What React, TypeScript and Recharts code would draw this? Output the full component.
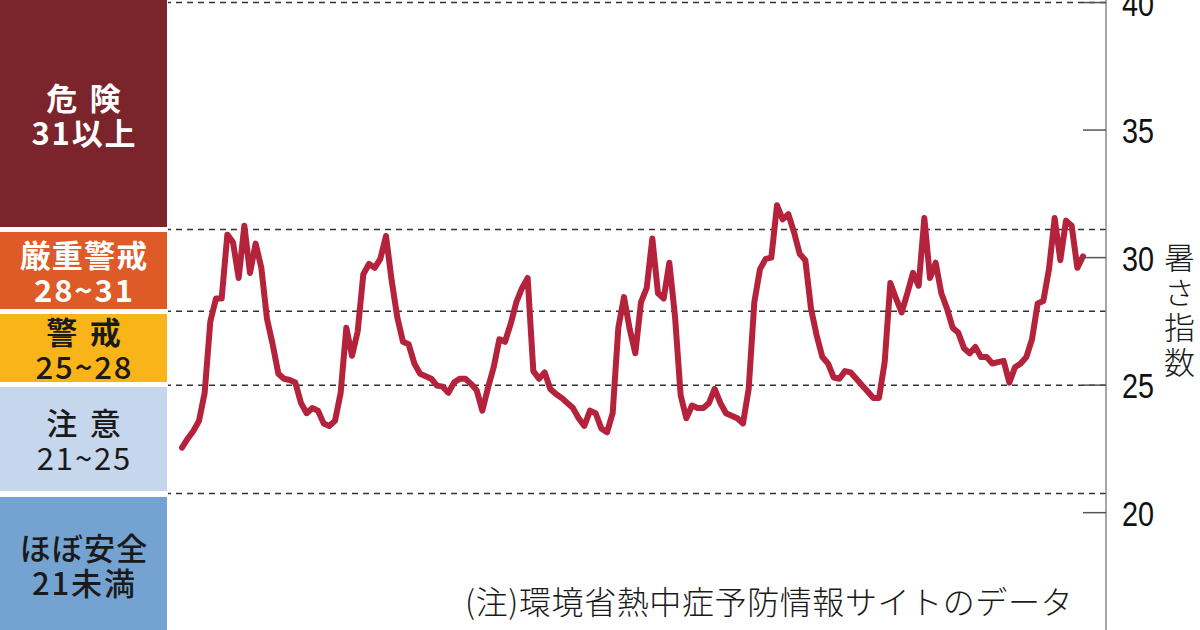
import { LineChart, Line, XAxis, YAxis, ReferenceLine } from "recharts";

const wave1 = [
  22.55, 22.9, 23.2, 23.6, 24.7, 27.5, 28.4, 28.4, 30.9, 30.6, 29.2, 31.25, 29.4,
  30.55, 29.6, 27.6, 26.6, 25.45, 25.25, 25.2, 25.1, 24.3, 23.9, 24.1, 24.0,
];
const wave2 = [
  23.5, 23.4, 23.6, 24.7, 27.25, 26.15, 27.1, 29.35, 29.75, 29.6, 29.95, 30.85,
  29.1, 27.65, 26.7, 26.6, 25.85, 25.45, 25.35, 25.25, 24.98, 24.94, 24.7, 25.1,
  25.25, 25.25, 25.05,
];
const wave3 = [
  24.8, 24.0, 24.9, 25.7, 26.8, 26.7, 27.4, 28.25, 28.8, 29.2, 25.55, 25.25, 25.5,
  24.85, 24.65, 24.5, 24.3, 24.1, 23.7, 23.4, 24.0, 23.9, 23.3, 23.15, 23.9,
  27.25, 28.45,
];
const wave4 = [
  27.2, 26.25, 28.25, 28.8, 30.75, 28.6, 28.4, 29.8, 27.7, 24.6, 23.7, 24.2, 24.1,
  24.1, 24.3, 24.85, 24.3, 23.9, 23.8, 23.7, 23.5, 24.85, 28.25, 29.55, 29.95, 30.0,
];
const wave5 = [
  32.05, 31.5, 31.7, 31.0, 30.15, 29.9, 28.0, 26.95, 26.1, 25.85, 25.3, 25.25,
  25.55, 25.5, 25.25, 25.0, 24.75, 24.5, 24.5, 25.9, 29.0, 28.4, 27.85, 28.6, 29.4,
  28.9,
];
const wave6 = [
  31.55, 29.2, 29.8, 28.6, 28.0, 27.25, 27.05, 26.45, 26.25, 26.5, 26.1, 26.1,
  25.85, 25.9, 25.95, 25.1, 25.7, 25.85, 26.1, 26.8, 28.2, 28.3, 29.55, 31.55, 29.9,
  31.45, 31.25, 29.6, 30.05,
];

const yTicks = [20, 25, 30, 35, 40];
const thresholds = [40, 31.1, 27.9, 25, 20.75];

const bandNames = ["危険", "厳重警戒", "警戒", "注意", "ほぼ安全"];
const bandRanges = ["31以上", "28~31", "25~28", "21~25", "21未満"];

const axisLabel = "暑さ指数";
const sourceNote = "(注)環境省熱中症予防情報サイトのデータ";

const heatIndex = [...wave1, ...wave2, ...wave3, ...wave4, ...wave5, ...wave6];

// layout of the coloured legend boxes on the left
const boxTops = [0, 232, 314, 387, 497];
const boxBottoms = [227, 309, 382, 491, 630];
const boxColors = ["#7b242b", "#de5a26", "#f8b418", "#c6d6ec", "#74a3d1"];
const boxText = ["#fff", "#fff", "#1a1a1a", "#1a1a1a", "#1a1a1a"];
const nameWeight = [700, 700, 700, 500, 500];
const rangeWeight = [700, 700, 500, 400, 500];

const cjk = "'Noto Sans CJK JP', 'Noto Sans', sans-serif";

const AxisTick = (props: any) => {
  const { x, y, payload } = props;
  return (
    <g>
      <line x1={x - 23} x2={x} y1={y} y2={y} stroke="#555" strokeWidth={1.5} />
      {/* squeezed Liberation Sans, to look like the condensed face of the original */}
      <text
        transform={`translate(${x + 16},${y}) scale(0.8,1)`}
        dy="0.36em"
        textAnchor="start"
        fontSize={36}
        fontFamily="'Liberation Sans', Arial, sans-serif"
        fill="#111"
      >
        {payload.value}
      </text>
    </g>
  );
};

export default function App() {
  const data = heatIndex.map((v, i) => ({ day: i + 1, value: v }));

  return (
    <div
      style={{
        position: "relative",
        width: 1200,
        height: 630,
        background: "#fff",
        overflow: "hidden",
        fontFamily: cjk,
      }}
    >
      <style>{`body{margin:0}`}</style>

      {bandNames.map((name, i) => {
        const spaced = name.length === 2;
        return (
          <div
            key={name}
            style={{
              position: "absolute",
              left: 0,
              width: 167,
              top: boxTops[i],
              height: boxBottoms[i] - boxTops[i],
              background: boxColors[i],
              color: boxText[i],
              display: "flex",
              flexDirection: "column",
              alignItems: "center",
              justifyContent: "center",
              lineHeight: "35px",
              fontSize: 31,
            }}
          >
            <div
              style={{
                fontWeight: nameWeight[i],
                letterSpacing: spaced ? "0.4em" : "0.04em",
                paddingLeft: spaced ? "0.4em" : "0.04em",
              }}
            >
              {name}
            </div>
            <div
              style={{
                fontWeight: rangeWeight[i],
                letterSpacing: "0.06em",
                paddingLeft: "0.06em",
              }}
            >
              {bandRanges[i]}
            </div>
          </div>
        );
      })}

      <LineChart
        width={1200}
        height={630}
        data={data}
        margin={{ top: 0, right: 0, bottom: 0, left: 168 }}
        style={{ position: "absolute", left: 0, top: 0 }}
      >
        <XAxis dataKey="day" hide padding={{ left: 14, right: 23 }} />
        <YAxis
          orientation="right"
          type="number"
          width={94}
          domain={[15.4, 40.1]}
          ticks={yTicks}
          interval={0}
          allowDataOverflow
          tickSize={0}
          tickMargin={0}
          tickLine={false}
          axisLine={{ stroke: "#8a8a8a", strokeWidth: 1.5 }}
          tick={(p: any) => <AxisTick {...p} />}
        />
        {thresholds.map((t) => (
          <ReferenceLine
            key={t}
            y={t}
            stroke="#333"
            strokeWidth={1.5}
            strokeDasharray="6 5"
          />
        ))}
        <Line
          type="linear"
          dataKey="value"
          stroke="#b5223c"
          strokeWidth={6}
          strokeLinejoin="round"
          strokeLinecap="round"
          dot={false}
          isAnimationActive={false}
        />
      </LineChart>

      <div
        style={{
          position: "absolute",
          left: 1164,
          top: 242,
          writingMode: "vertical-rl",
          fontSize: 31,
          fontWeight: 300,
          letterSpacing: 4,
          lineHeight: 1,
          color: "#1a1a1a",
        }}
      >
        {axisLabel}
      </div>

      <div
        style={{
          position: "absolute",
          left: 465,
          top: 584,
          fontSize: 32,
          fontWeight: 300,
          letterSpacing: 0.6,
          lineHeight: 1,
          color: "#1a1a1a",
          whiteSpace: "nowrap",
        }}
      >
        {sourceNote}
      </div>
    </div>
  );
}
